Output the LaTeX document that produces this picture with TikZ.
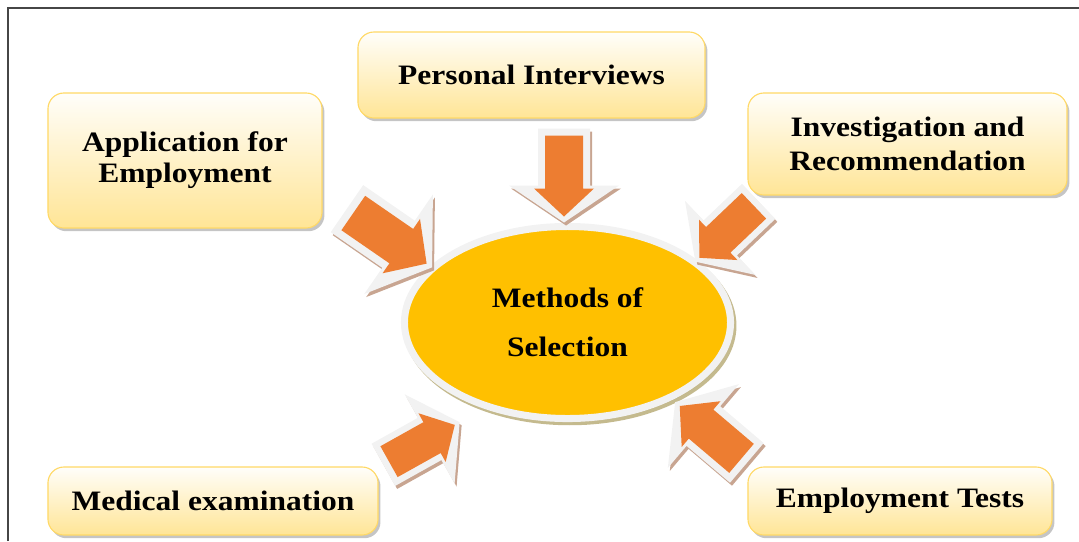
\documentclass[tikz,border=0pt]{standalone}
\usepackage{fontspec}
\setmainfont{Liberation Serif}[FakeStretch=1.12]
\usetikzlibrary{shapes.geometric,shadows}

\definecolor{selgold}{RGB}{255,192,0}
\definecolor{arroworange}{RGB}{237,125,49}
\definecolor{arrowshade}{RGB}{200,165,145}
\definecolor{arrowrim}{RGB}{242,242,242}
\definecolor{boxtop}{RGB}{255,254,250}
\definecolor{boxbottom}{RGB}{255,229,150}
\definecolor{boxline}{RGB}{255,217,102}
\definecolor{rimshade}{RGB}{190,178,130}
\definecolor{framegray}{RGB}{70,70,70}

\begin{document}
\begin{tikzpicture}[x=0.025cm, y=-0.025cm,
  methodbox/.style={draw=boxline, line width=0.8pt, rounded corners=0.4cm,
    top color=boxtop, bottom color=boxbottom, align=center,
    font=\bfseries\fontsize{20}{24}\selectfont,
    drop shadow={shadow xshift=0.06cm, shadow yshift=-0.08cm, fill=black!45, opacity=0.5}},
  centreoval/.style={ellipse, fill=selgold, draw=arrowrim, line width=5pt, inner sep=0pt,
    align=center, font=\bfseries\fontsize{20}{35}\selectfont,
    drop shadow={shadow xshift=0.06cm, shadow yshift=-0.08cm, fill=rimshade, draw=rimshade, line width=5pt, opacity=0.9}}]
% Picture size and frame
\useasboundingbox (0,0) rectangle (1079,541);
\draw[framegray, line width=1.4pt] (8,541) -- (8,8) -- (1079,8);

% Block arrow: centre, angle, scale
\def\selarrow#1#2#3{%
  \fill[arrowshade, shift={#1}, shift={(2,3)}, rotate=#2, scale=#3]
    (-47,-26) -- (10,-26) -- (10,-55) -- (47,0) -- (10,55) -- (10,26) -- (-47,26) -- cycle;
  \fill[arrowrim, shift={#1}, rotate=#2, scale=#3]
    (-47,-26) -- (10,-26) -- (10,-55) -- (47,0) -- (10,55) -- (10,26) -- (-47,26) -- cycle;
  \fill[arroworange, shift={#1}, rotate=#2, scale=#3]
    (-40,-19) -- (13,-19) -- (13,-30) -- (41,0) -- (13,30) -- (13,19) -- (-40,19) -- cycle;
}

% The five methods
\node[methodbox, minimum width=6.85cm, minimum height=3.375cm] (app) at (185,160.5) {Application for\\[-2pt]Employment};
\node[methodbox, minimum width=8.675cm, minimum height=2.15cm] (pi) at (531.5,75) {Personal Interviews};
\node[methodbox, minimum width=7.975cm, minimum height=2.55cm] (inv) at (907.5,144) {Investigation and\\Recommendation};
\node[methodbox, minimum width=8.25cm, minimum height=1.7cm] (med) at (213,501) {Medical examination};
\node[methodbox, minimum width=7.6cm, minimum height=1.7cm] (tests) at (900,501) {Employment Tests};

% Centre
\node[centreoval, minimum width=8.15cm, minimum height=4.8cm] (methods) at (567.5,322.5) {Methods of\\Selection};

% Arrows into the centre
\selarrow{(564,175.5)}{-90}{1.0}
\selarrow{(389.5,238)}{-34.6}{1.1}
\selarrow{(727,231.5)}{-136.4}{0.93}
\selarrow{(421.5,443.5)}{29.2}{0.93}
\selarrow{(711,432.5)}{139.7}{1.0}
\end{tikzpicture}
\end{document}
